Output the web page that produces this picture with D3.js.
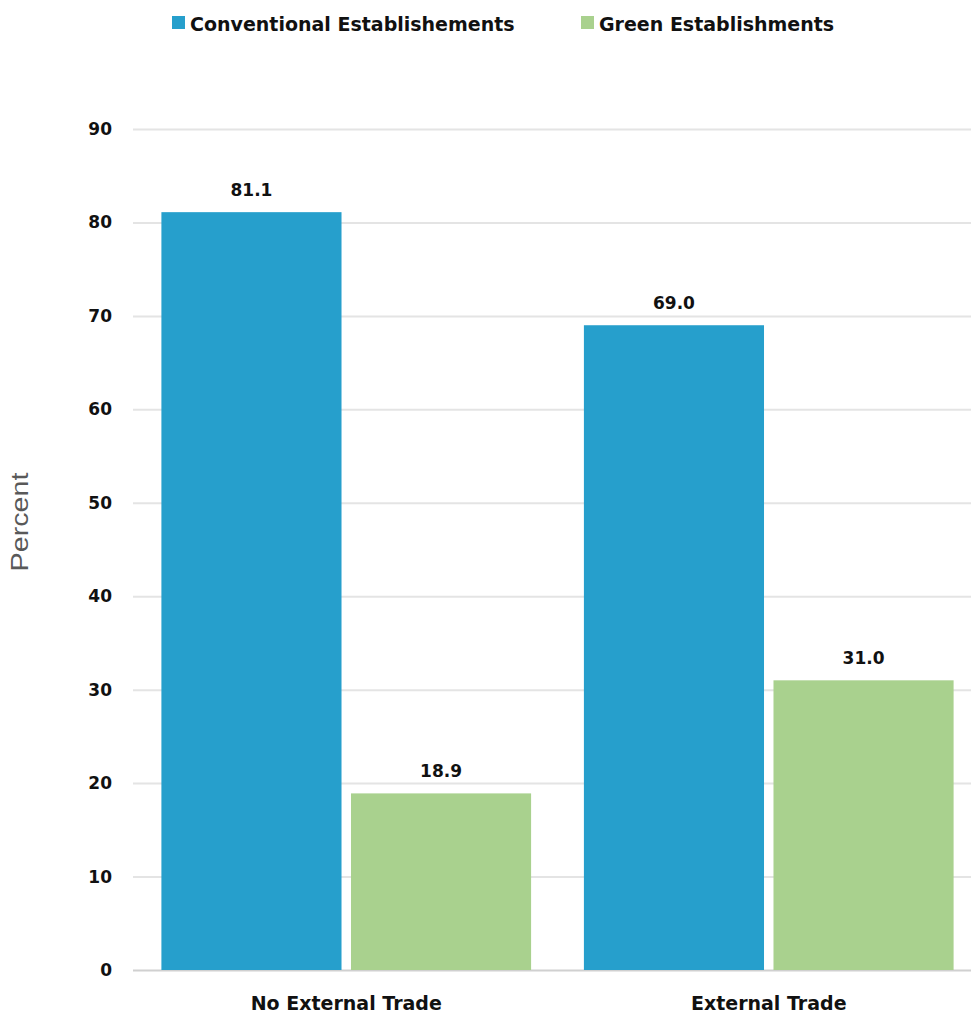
<!DOCTYPE html>
<html><head><meta charset="utf-8">
<script src="https://cdn.jsdelivr.net/npm/d3@7"></script>
<style>body{margin:0;background:#fff}svg{display:block}</style>
</head><body>
<svg id="c" width="971" height="1018"></svg>
<script>
const categories = ["No External Trade", "External Trade"];
const seriesNames = ["Conventional Establishements", "Green Establishments"];
const conventional = [81.1, 69.0];
const green = [18.9, 31.0];
const yTicks = [0,10,20,30,40,50,60,70,80,90];
const colors = ["#269fcc", "#a9d18e"];

const svg = d3.select("#c");
const font = "'DejaVu Sans', sans-serif";
const y = d3.scaleLinear().domain([0, 90]).range([970, 129]);
const x0 = d3.scaleBand().domain(categories).range([135, 980]).paddingInner(0.125).paddingOuter(0.0625);
const x1 = d3.scaleBand().domain(seriesNames).range([0, x0.bandwidth()]).paddingInner(0.05);

// gridlines
const yAxis = d3.axisLeft(y).tickValues(yTicks).tickSize(0).tickPadding(21).tickFormat(d3.format("d"));
const gy = svg.append("g").attr("transform", "translate(133,0)").call(yAxis);
gy.select(".domain").remove();
gy.selectAll(".tick text").attr("font-family", font).attr("font-weight", "bold").attr("font-size", 17).attr("fill", "#111");
gy.selectAll(".tick").append("line").attr("x1", 0).attr("x2", 838)
  .attr("stroke", d => d === 0 ? "#d0d0d0" : "#e4e4e4").attr("stroke-width", 2);

const data = categories.map((c, i) => ({cat: c, vals: [conventional[i], green[i]]}));
const g = svg.selectAll(".grp").data(data).enter().append("g")
  .attr("transform", d => `translate(${x0(d.cat)},0)`);
g.selectAll("rect").data(d => d.vals.map((v, j) => ({s: seriesNames[j], v, j}))).enter().append("rect")
  .attr("x", d => x1(d.s)).attr("width", x1.bandwidth())
  .attr("y", d => y(d.v)).attr("height", d => y(0) - y(d.v))
  .attr("fill", d => colors[d.j]);
g.selectAll("text.v").data(d => d.vals.map((v, j) => ({s: seriesNames[j], v, j}))).enter().append("text")
  .attr("x", d => x1(d.s) + x1.bandwidth() / 2).attr("y", d => y(d.v) - 16)
  .attr("text-anchor", "middle").attr("font-family", font).attr("font-weight", "bold").attr("font-size", 17).attr("fill", "#111")
  .text(d => d3.format(".1f")(d.v));

// x axis labels
const xAxis = d3.axisBottom(x0).tickSize(0).tickPadding(27);
const gx = svg.append("g").attr("transform", "translate(0,970)").call(xAxis);
gx.select(".domain").remove();
gx.selectAll(".tick text").attr("font-family", font).attr("font-weight", "bold").attr("font-size", 19).attr("fill", "#111");

// y title
svg.append("text").attr("transform", "translate(28,522) rotate(-90)").attr("text-anchor", "middle")
  .attr("font-family", "'Liberation Sans', Arial, sans-serif").attr("font-size", 23)
  .attr("textLength", 99).attr("lengthAdjust", "spacingAndGlyphs")
  .attr("fill", "#595959").text("Percent");

// legend
const legX = [172, 581];
const lg = svg.selectAll(".leg").data(seriesNames).enter().append("g")
  .attr("transform", (d, i) => `translate(${legX[i]},0)`);
lg.append("rect").attr("x", 0).attr("y", 16).attr("width", 13).attr("height", 13).attr("fill", (d, i) => colors[i]);
lg.append("text").attr("x", 18).attr("y", 31).attr("font-family", font).attr("font-weight", "bold").attr("font-size", 19).attr("fill", "#111").text(d => d);
</script>
</body></html>
